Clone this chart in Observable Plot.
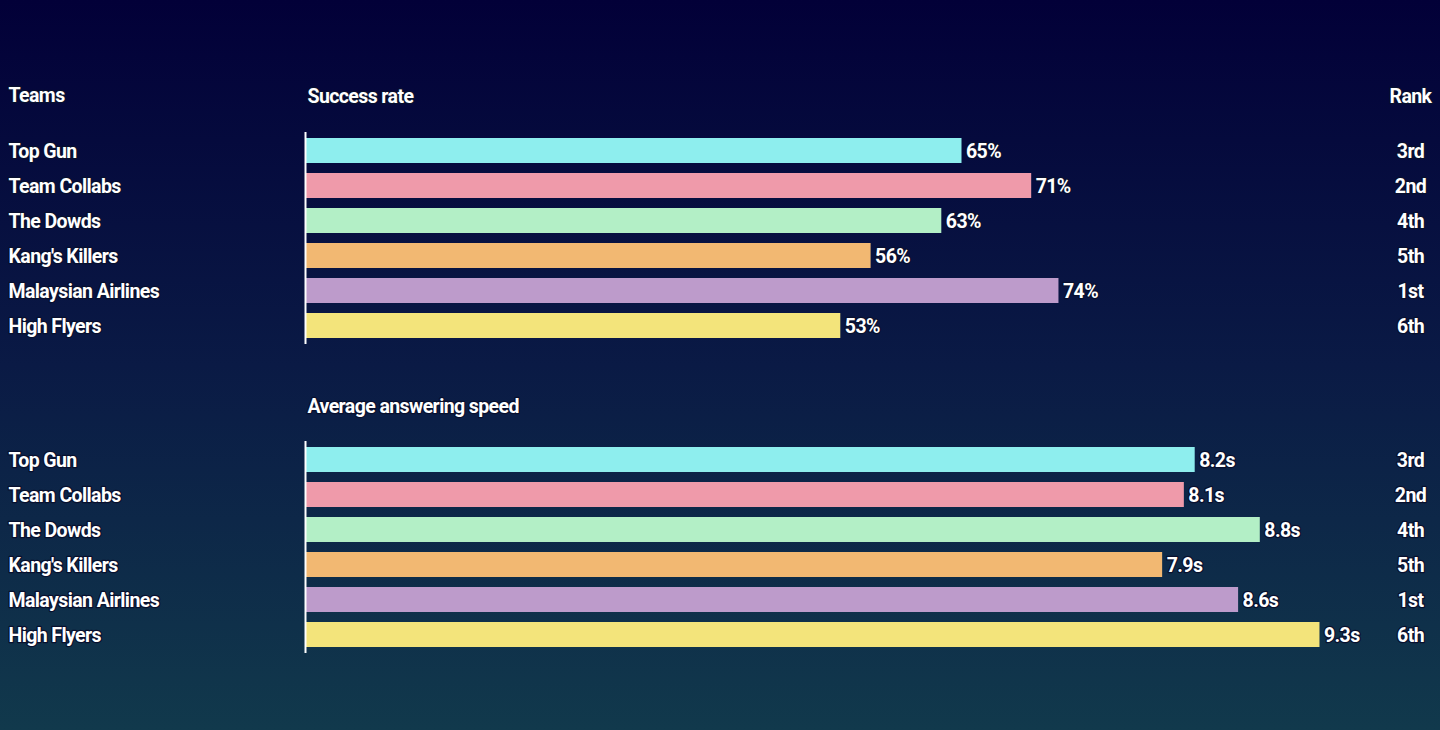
<!DOCTYPE html>
<html>
<head>
<meta charset="utf-8">
<script src="https://cdn.jsdelivr.net/npm/d3@7"></script>
<script src="https://cdn.jsdelivr.net/npm/@observablehq/plot@0.6"></script>
<style>
  html, body { margin: 0; padding: 0; width: 1440px; height: 730px; overflow: hidden; }
  body { background: linear-gradient(to bottom, #020038 0%, #0a1a45 50%, #11394c 100%); }
  #chart svg { display: block; }
</style>
</head>
<body>
<div id="chart"></div>
<script>
const teams = ["Top Gun", "Team Collabs", "The Dowds", "Kang's Killers", "Malaysian Airlines", "High Flyers"];
const successRate = [65, 71.9, 63, 56, 74.6, 53];
const answerSpeed = [8.2, 8.1, 8.8, 7.9, 8.6, 9.35];
const ranks = ["3rd", "2nd", "4th", "5th", "1st", "6th"];
const palette = ["#8eeeee", "#ef9aaa", "#b3efc6", "#f2b872", "#bd9bcb", "#f3e47b"];

const FONT = "Roboto, 'Open Sans', sans-serif";
const OUTLINE = "#08102e";

function panel({ title, titleDy, values, fmt, domain, marginTop, marginRight, showTop }) {
  const data = teams.map((t, i) => ({ team: t, value: values[i], rank: ranks[i] }));
  const H = 365;
  const bandBottom = marginTop + 212;
  const textOpts = { fill: "white", stroke: OUTLINE, strokeWidth: 2.5, fontWeight: 700, lineAnchor: "middle" };
  const rankX = 1410 - (1440 - marginRight);
  const marks = [
    Plot.barX(data, { x: "value", y: "team", fill: "team" }),
    Plot.ruleX([0], { stroke: "white", strokeWidth: 2 }),
    Plot.text(data, { x: "value", y: "team", text: d => fmt(d.value), textAnchor: "start", dx: 4, dy: 1, ...textOpts }),
    Plot.text(data, { y: "team", text: "team", frameAnchor: "left", dx: -297, dy: 1, textAnchor: "start", ...textOpts }),
    Plot.text(data, { y: "team", text: "rank", frameAnchor: "right", dx: rankX, dy: 1, textAnchor: "middle", ...textOpts }),
    Plot.text([title], { frameAnchor: "top-left", dx: 2, dy: titleDy, textAnchor: "start", ...textOpts })
  ];
  if (showTop) {
    marks.push(Plot.text(["Teams"], { frameAnchor: "top-left", dx: -297, dy: -37, textAnchor: "start", ...textOpts }));
    marks.push(Plot.text(["Rank"], { frameAnchor: "top-right", dx: rankX, dy: -36, textAnchor: "middle", ...textOpts }));
  }
  return Plot.plot({
    width: 1440,
    height: H,
    marginLeft: 305,
    marginRight,
    marginTop,
    marginBottom: H - bandBottom,
    x: { domain, axis: null },
    y: { domain: teams, axis: null, paddingInner: 0.3, paddingOuter: 0.15 },
    color: { domain: teams, range: palette },
    style: { background: "transparent", color: "white", fontFamily: FONT, fontSize: "19.5px", letterSpacing: "-0.6px", overflow: "visible" },
    marks
  });
}

const chart = document.getElementById("chart");
chart.append(panel({
  title: "Success rate", titleDy: -36, values: successRate, fmt: v => Math.floor(v) + "%",
  domain: [0, 100], marginTop: 132, marginRight: 125, showTop: true
}));
chart.append(panel({
  title: "Average answering speed", titleDy: -35, values: answerSpeed, fmt: v => (Math.floor(v * 10 + 1e-9) / 10).toFixed(1) + "s",
  domain: [0, 10], marginTop: 76, marginRight: 50, showTop: false
}));
</script>
</body>
</html>
